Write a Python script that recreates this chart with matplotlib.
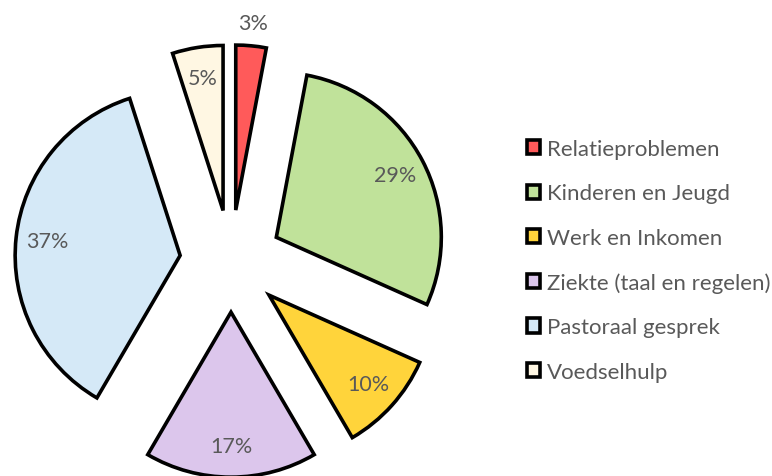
import numpy as np
import matplotlib
matplotlib.use("Agg")
import matplotlib.pyplot as plt

plt.rcParams['font.family'] = ['Lato', 'DejaVu Sans']

categories = ['Relatieproblemen', 'Kinderen en Jeugd', 'Werk en Inkomen',
              'Ziekte (taal en regelen)', 'Pastoraal gesprek', 'Voedselhulp']
values = [3, 29, 10, 17, 37, 5]
colors = ['#FF5A5A', '#C0E29A', '#FFD43B', '#DCC6EC', '#D5E9F7', '#FFF7E3']

fig = plt.figure(figsize=(7.72, 4.77), dpi=100)
ax = fig.add_axes([0, 0, 460 / 772, 1])

wedges, texts, autotexts = ax.pie(
    values, colors=colors, startangle=90, counterclock=False,
    explode=[0.31] * len(values), radius=1.0,
    autopct=lambda p: '%.0f%%' % p, pctdistance=0.81,
    wedgeprops=dict(edgecolor='black', linewidth=2.6),
    textprops=dict(color='#595959', fontsize=15.5))

for w in wedges:
    w.set_clip_on(False)

# first label sits outside its thin slice
w = wedges[0]
th = np.deg2rad((w.theta1 + w.theta2) / 2)
cx, cy = w.center
autotexts[0].set_position((cx + 1.14 * np.cos(th), cy + 1.14 * np.sin(th)))

ax.set_aspect('auto')
ax.set_xlim(-1.4, 1.388)
ax.set_ylim(-1.303, 1.588)
ax.axis('off')

fig.legend(wedges, categories, loc='upper left', bbox_to_anchor=(527 / 772, 1 - 140 / 477),
           frameon=False, fontsize=16, labelcolor='#595959',
           handlelength=0.6, handleheight=0.6, handletextpad=0.3,
           labelspacing=1.1, borderaxespad=0, borderpad=0)

fig.savefig('out.png', dpi=100)
